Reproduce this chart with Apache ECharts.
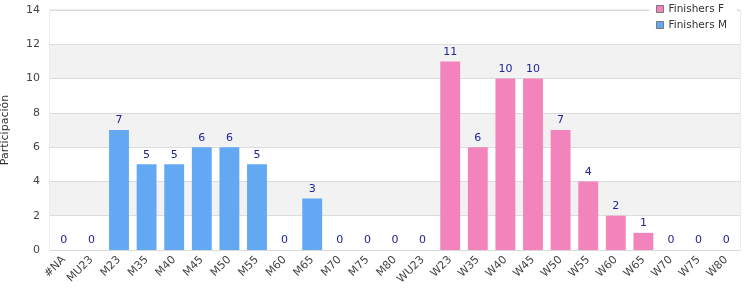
<!DOCTYPE html>
<html><head><meta charset="utf-8">
<script src="https://cdn.jsdelivr.net/npm/echarts@6/dist/echarts.min.js"></script>
<style>html,body{margin:0;padding:0;background:#fff}#c{width:750px;height:300px}</style>
</head><body><div id="c"></div>
<script>
const categories = ['#NA','MU23','M23','M35','M40','M45','M50','M55','M60','M65','M70','M75','M80','WU23','W23','W35','W40','W45','W50','W55','W60','W65','W70','W75','W80'];
const finishersM = [0,0,7,5,5,6,6,5,0,3,0,0,0,null,null,null,null,null,null,null,null,null,null,null,null];
const finishersF = [null,null,null,null,null,null,null,null,null,null,null,null,null,0,11,6,10,10,7,4,2,1,0,0,0];
const yTicks = {min:0, max:14, interval:2};
const FONT = 'DejaVu Sans';
const chart = echarts.init(document.getElementById('c'), null, {renderer:'canvas'});
const label = {show:true, position:'top', color:'#22229a', fontFamily:FONT, fontSize:11, distance:4};
chart.setOption({
  animation:false,
  textStyle:{fontFamily:FONT},
  grid:{left:50, right:10, top:10, bottom:50, show:true, borderColor:'#d9d9d9', borderWidth:1, containLabel:false, outerBoundsMode:'none'},
  legend:{orient:'vertical', right:13, top:2, data:['Finishers F','Finishers M'], itemWidth:7, itemHeight:7, itemGap:4,
    backgroundColor:'#fff', padding:[1,10,1,7],
    itemStyle:{borderColor:'#777', borderWidth:1},
    textStyle:{fontFamily:FONT, fontSize:10.5, color:'#333', lineHeight:12}, icon:'rect'},
  xAxis:{type:'category', data:categories,
    axisLine:{lineStyle:{color:'#d9d9d9'}}, axisTick:{show:false},
    axisLabel:{rotate:45, interval:0, color:'#444', fontFamily:FONT, fontSize:11, margin:8}},
  yAxis:{type:'value', min:yTicks.min, max:yTicks.max, interval:yTicks.interval,
    name:'Participación', nameLocation:'middle', nameGap:39, nameRotate:90,
    nameTextStyle:{fontFamily:FONT, fontSize:11, color:'#333'},
    axisLabel:{color:'#444', fontFamily:FONT, fontSize:11, margin:10},
    splitLine:{show:true, lineStyle:{color:'#dcdcdc'}},
    splitArea:{show:true, areaStyle:{color:['#ffffff','#f2f2f2']}}},
  series:[
    {name:'Finishers M', type:'bar', data:finishersM, barWidth:'72%', barGap:'-100%',
      itemStyle:{color:'#62a8f3'}, label:label},
    {name:'Finishers F', type:'bar', data:finishersF, barWidth:'72%', barGap:'-100%',
      itemStyle:{color:'#f383bb'}, label:label}
  ]
});
</script></body></html>
